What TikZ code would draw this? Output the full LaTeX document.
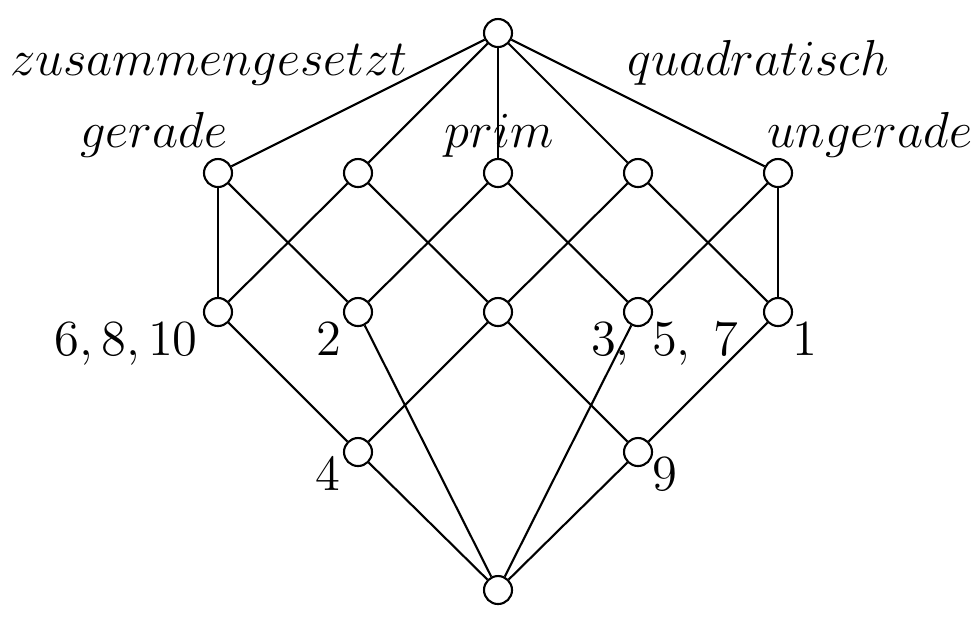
\documentclass[tikz,border=0pt]{standalone}
\usepackage{amsmath}
\usepackage{amssymb}
\usetikzlibrary{positioning}

\begin{document}
\begin{tikzpicture}[x=1cm, y=1cm,
    concept/.style={circle, draw, fill=white, semithick, minimum size=0.28cm, inner sep=0pt},
    edgestyle/.style={semithick},
    attr/.style={anchor=base, inner sep=0pt, font=\fontsize{14.7}{17}\selectfont},
    obj/.style={anchor=base, inner sep=0pt, font=\fontsize{15}{18}\selectfont}]
  \useasboundingbox (0,0) rectangle (9.77,-6.25);
  % lattice nodes
  \node[concept] (top) at (4.98,-0.33) {};
  \node[concept] (ger) at (2.18,-1.73) {};
  \node[concept] (zus) at (3.58,-1.73) {};
  \node[concept] (pri) at (4.98,-1.73) {};
  \node[concept] (qua) at (6.38,-1.73) {};
  \node[concept] (ung) at (7.78,-1.73) {};
  \node[concept] (gz)  at (2.18,-3.12) {};
  \node[concept] (gp)  at (3.58,-3.12) {};
  \node[concept] (zq)  at (4.98,-3.12) {};
  \node[concept] (pu)  at (6.38,-3.12) {};
  \node[concept] (qu)  at (7.78,-3.12) {};
  \node[concept] (four) at (3.58,-4.52) {};
  \node[concept] (nine) at (6.38,-4.52) {};
  \node[concept] (bot) at (4.98,-5.90) {};
  % edges
  \foreach \a/\b in {top/ger, top/zus, top/pri, top/qua, top/ung,
                     ger/gz, ger/gp, zus/gz, zus/zq, pri/gp, pri/pu,
                     qua/zq, qua/qu, ung/pu, ung/qu,
                     gz/four, zq/four, zq/nine, qu/nine,
                     gp/bot, pu/bot, four/bot, nine/bot}
    \draw[edgestyle] (\a) -- (\b);
  % attribute labels
  \node[attr] (lzus) at (2.09,-0.75) {$zusammengesetzt$};
  \node[attr] (lqua) at (7.58,-0.75) {$quadratisch$};
  \node[attr] (lger) at (1.54,-1.47) {$gerade$};
  \node[attr] (lpri) at (4.99,-1.47) {$prim$};
  \node[attr] (lung) at (8.70,-1.47) {$ungerade$};
  % object labels
  \node[obj] (lgz) at (1.26,-3.55) {$6, 8, 10$};
  \node[obj] (lgp) at (3.285,-3.55) {$2$};
  \node[obj] (lpu) at (6.645,-3.55) {$3,\;5,\;7$};
  \node[obj] (lqu) at (8.05,-3.55) {$1$};
  \node[obj] (lfour) at (3.28,-4.90) {$4$};
  \node[obj] (lnine) at (6.65,-4.90) {$9$};
\end{tikzpicture}
\end{document}
